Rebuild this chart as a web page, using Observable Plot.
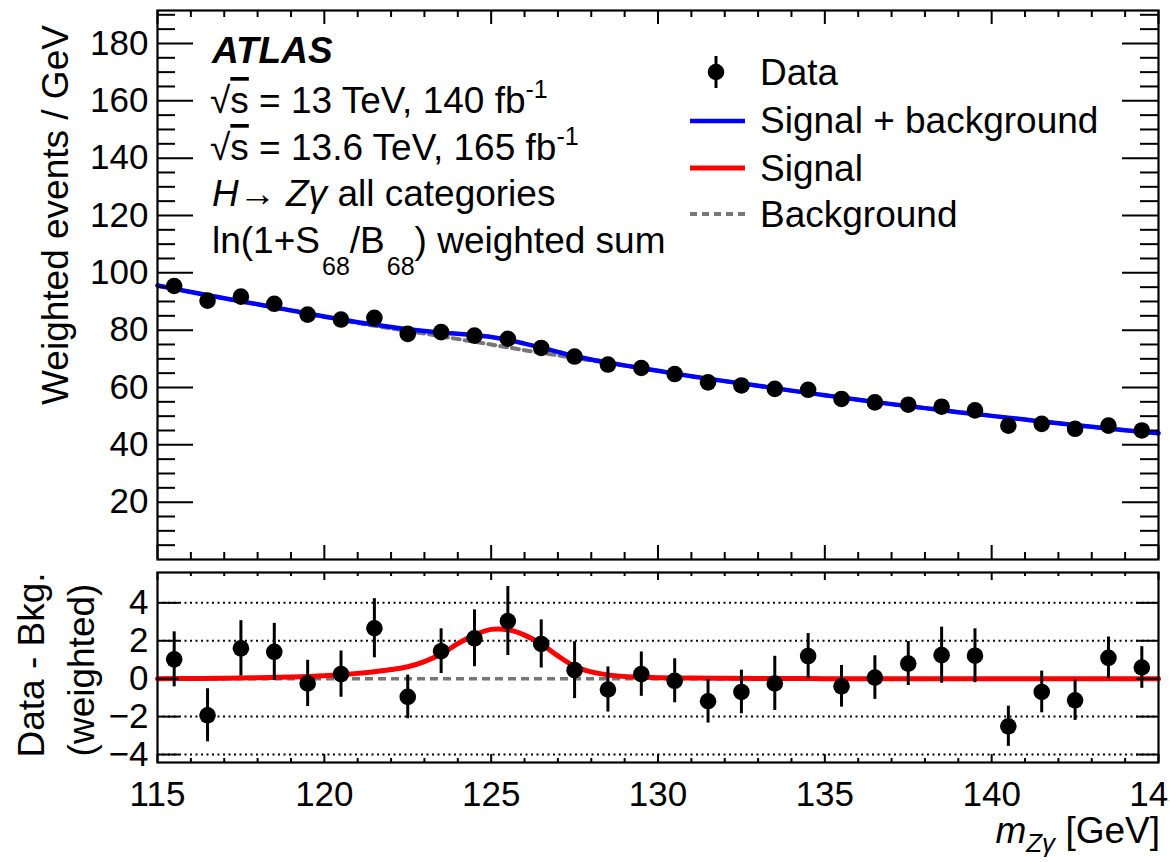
<!DOCTYPE html>
<html><head><meta charset="utf-8">
<script src="https://cdn.jsdelivr.net/npm/d3@7"></script>
<script src="https://cdn.jsdelivr.net/npm/@observablehq/plot@0.6"></script>
<style>
html,body{margin:0;padding:0;background:#fff;overflow:hidden;}
#wrap{position:relative;width:1170px;height:862px;overflow:hidden;font-family:"Liberation Sans",Arial,Helvetica,sans-serif;}
#wrap > svg, #wrap > div{position:absolute;left:0;}
#ann{position:absolute;left:0;top:0;pointer-events:none;}
#ann text{font-family:"Liberation Sans",Arial,Helvetica,sans-serif;font-size:37px;fill:#000;}
</style></head>
<body><div id="wrap"></div>
<script>
// ---------------- data ----------------
const binCenters = [115.5,116.5,117.5,118.5,119.5,120.5,121.5,122.5,123.5,124.5,125.5,126.5,127.5,128.5,129.5,130.5,131.5,132.5,133.5,134.5,135.5,136.5,137.5,138.5,139.5,140.5,141.5,142.5,143.5,144.5];
const dataValues = [95.4,90.3,91.7,89.2,85.4,83.7,84.3,78.7,79.3,78.1,77.0,73.8,70.8,68.0,66.8,64.7,61.8,60.7,59.5,59.2,56.0,54.8,54.0,53.3,52.0,46.7,47.3,45.6,46.7,45.0];
const residuals = [1.02,-1.93,1.60,1.42,-0.25,0.24,2.66,-0.96,1.45,2.13,3.04,1.83,0.45,-0.57,0.24,-0.11,-1.19,-0.70,-0.25,1.19,-0.40,0.06,0.80,1.24,1.21,-2.51,-0.70,-1.14,1.10,0.59];
const errors = [1.45,1.40,1.46,1.50,1.22,1.22,1.56,1.15,1.18,1.50,1.82,1.27,1.50,1.19,1.17,1.16,1.15,1.15,1.43,1.19,1.10,1.15,1.16,1.48,1.42,1.06,1.10,1.06,1.10,1.10];

const curveMass = [115,116,117,118,119,120,121,121.5,122,122.5,123,123.5,124,124.5,125,125.5,126,126.5,127,127.5,128,128.5,129,129.5,130,131,132,133,134,135,136,137,138,139,140,141,142,143,144,145];
const backgroundCurve = [95.6,93.3,91.1,89.0,86.8,84.6,82.5,81.55,80.6,79.7,78.8,77.85,76.9,75.95,75.0,74.0,73.0,72.1,71.2,70.3,69.4,68.5,67.6,66.7,65.8,63.9,62.2,60.6,58.9,57.3,55.7,54.2,52.8,51.4,50.1,48.8,47.5,46.3,45.1,44.0];
const signalCurve = [0,0.01,0.02,0.05,0.09,0.16,0.28,0.37,0.48,0.63,0.9,1.3,1.85,2.3,2.6,2.58,2.3,1.83,1.2,0.66,0.36,0.2,0.12,0.08,0.05,0.03,0.02,0.01,0.01,0,0,0,0,0,0,0,0,0,0,0];

const upperTicks = [20,40,60,80,100,120,140,160,180];
const lowerTicks = [-4,-2,0,2,4];
const lowerGrid = [-4,-2,2,4];
const massTicks = [115,120,125,130,135,140,145];

// ---------------- layout ----------------
const W = 1170, mL = 157, mR = 12;
const plotW = W - mL - mR;
const font = "'Liberation Sans', Arial, Helvetica, sans-serif";
const tickFont = 35;
const binIdx = binCenters.map((_, i) => i);
const curveIdx = curveMass.map((_, i) => i);
const minorMass = d3.range(116, 145, 1).filter(v => v % 5 !== 0);
const upperMinor = d3.range(5, 191, 5).filter(v => v % 20 !== 0);

// upper panel
const uH = 566, uTop = 10, uBot = 559;
const uInner = uBot - uTop;
const upper = Plot.plot({
  width: W, height: uH,
  marginLeft: mL, marginRight: mR, marginTop: uTop, marginBottom: uH - uBot,
  x: {domain: [115, 145], axis: null},
  y: {domain: [0, 191.5], axis: null},
  style: {fontFamily: font, fontSize: tickFont + "px", background: "transparent", overflow: "visible"},
  marks: [
    Plot.line(curveIdx, {x: i => curveMass[i], y: i => backgroundCurve[i], stroke: "#777", strokeWidth: 4, strokeDasharray: "7,5", curve: "catmull-rom"}),
    Plot.line(curveIdx, {x: i => curveMass[i], y: i => backgroundCurve[i] + signalCurve[i], stroke: "#0000ff", strokeWidth: 4.5, curve: "catmull-rom"}),
    Plot.ruleX(binIdx, {x: i => binCenters[i], y1: i => dataValues[i] - errors[i], y2: i => dataValues[i] + errors[i], stroke: "#000", strokeWidth: 3}),
    Plot.dot(binIdx, {x: i => binCenters[i], y: i => dataValues[i], r: 8.3, fill: "#000", stroke: "none"}),
    Plot.tickY(upperTicks, {y: d => d, insetRight: plotW - 36, stroke: "#000", strokeWidth: 2}),
    Plot.tickY(upperMinor, {y: d => d, insetRight: plotW - 18, stroke: "#000", strokeWidth: 2}),
    Plot.tickY(upperTicks, {y: d => d, insetLeft: plotW - 36, stroke: "#000", strokeWidth: 2}),
    Plot.tickY(upperMinor, {y: d => d, insetLeft: plotW - 18, stroke: "#000", strokeWidth: 2}),
    Plot.tickX(massTicks, {x: d => d, insetBottom: uInner - 14, stroke: "#000", strokeWidth: 2}),
    Plot.tickX(minorMass, {x: d => d, insetBottom: uInner - 7, stroke: "#000", strokeWidth: 2}),
    Plot.tickX(massTicks, {x: d => d, insetTop: uInner - 14, stroke: "#000", strokeWidth: 2}),
    Plot.tickX(minorMass, {x: d => d, insetTop: uInner - 7, stroke: "#000", strokeWidth: 2}),
    Plot.axisY({ticks: upperTicks, tickSize: 0, tickPadding: 9, label: null, fontSize: tickFont}),
    Plot.frame({stroke: "#000", strokeWidth: 2.2})
  ]
});
upper.style.top = "0px";

// lower panel
const lTopPx = 566, lH = 296, lTop = 6, lBotPx = 762;
const lMarginBottom = lTopPx + lH - lBotPx;
const lInner = lH - lTop - lMarginBottom;
const lower = Plot.plot({
  width: W, height: lH,
  marginLeft: mL, marginRight: mR, marginTop: lTop, marginBottom: lMarginBottom,
  x: {domain: [115, 145], axis: null},
  y: {domain: [-4.42, 5.6], axis: null},
  style: {fontFamily: font, fontSize: tickFont + "px", background: "transparent", overflow: "visible"},
  marks: [
    Plot.ruleY(lowerGrid, {y: d => d, stroke: "#000", strokeWidth: 2, strokeDasharray: "2,3.5"}),
    Plot.ruleY([0], {y: d => d, stroke: "#777", strokeWidth: 3.5, strokeDasharray: "8,5"}),
    Plot.line(curveIdx, {x: i => curveMass[i], y: i => signalCurve[i], stroke: "#ff0000", strokeWidth: 5, curve: "catmull-rom"}),
    Plot.ruleX(binIdx, {x: i => binCenters[i], y1: i => residuals[i] - errors[i], y2: i => residuals[i] + errors[i], stroke: "#000", strokeWidth: 3}),
    Plot.dot(binIdx, {x: i => binCenters[i], y: i => residuals[i], r: 8.3, fill: "#000", stroke: "none"}),
    Plot.tickY(lowerTicks, {y: d => d, insetRight: plotW - 22, stroke: "#000", strokeWidth: 2}),
    Plot.tickY(lowerTicks, {y: d => d, insetLeft: plotW - 22, stroke: "#000", strokeWidth: 2}),
    Plot.tickX(massTicks, {x: d => d, insetBottom: lInner - 8, stroke: "#000", strokeWidth: 2}),
    Plot.tickX(minorMass, {x: d => d, insetBottom: lInner - 4, stroke: "#000", strokeWidth: 2}),
    Plot.tickX(massTicks, {x: d => d, insetTop: lInner - 8, stroke: "#000", strokeWidth: 2}),
    Plot.tickX(minorMass, {x: d => d, insetTop: lInner - 4, stroke: "#000", strokeWidth: 2}),
    Plot.axisY({ticks: lowerTicks, tickSize: 0, tickPadding: 9, label: null, fontSize: tickFont}),
    Plot.axisX({ticks: massTicks, tickSize: 0, tickPadding: 19, label: null, fontSize: tickFont}),
    Plot.frame({stroke: "#000", strokeWidth: 2.2})
  ]
});
lower.style.top = lTopPx + "px";

const wrap = document.getElementById("wrap");
wrap.appendChild(upper);
wrap.appendChild(lower);

// annotations, titles and legend
const ann = `
<svg id="ann" width="1170" height="862" xmlns="http://www.w3.org/2000/svg">
  <text x="212" y="63" font-weight="bold" font-style="italic">ATLAS</text>
  <text x="210" y="113">√<tspan text-decoration="overline">s</tspan> = 13 TeV, 140 fb<tspan dy="-15" font-size="25">-1</tspan></text>
  <text x="210" y="160">√<tspan text-decoration="overline">s</tspan> = 13.6 TeV, 165 fb<tspan dy="-15" font-size="25">-1</tspan></text>
  <text x="212" y="206"><tspan font-style="italic">H</tspan>→ <tspan font-style="italic">Zγ</tspan> all categories</text>
  <text x="212" y="253">ln(1+S<tspan dx="2" dy="22" font-size="25">68</tspan><tspan dy="-22">/B</tspan><tspan dx="2" dy="22" font-size="25">68</tspan><tspan dy="-22">) weighted sum</tspan></text>

  <line x1="716" x2="716" y1="56" y2="88" stroke="#000" stroke-width="3"/>
  <circle cx="716" cy="72" r="8.3" fill="#000"/>
  <line x1="690" x2="745" y1="121" y2="121" stroke="#0000ff" stroke-width="4.5"/>
  <line x1="690" x2="745" y1="168" y2="168" stroke="#ff0000" stroke-width="5"/>
  <line x1="690" x2="745" y1="214" y2="214" stroke="#777" stroke-width="4" stroke-dasharray="7,5"/>
  <text x="760" y="85">Data</text>
  <text x="760" y="133">Signal + background</text>
  <text x="760" y="181">Signal</text>
  <text x="760" y="227">Background</text>

  <text transform="translate(68,215) rotate(-90)" text-anchor="middle">Weighted events / GeV</text>
  <text transform="translate(44,665) rotate(-90)" text-anchor="middle">Data - Bkg.</text>
  <text transform="translate(94,670) rotate(-90)" text-anchor="middle">(weighted)</text>

  <text x="1160" y="843" text-anchor="end"><tspan font-style="italic">m</tspan><tspan dy="9" font-size="26" font-style="italic">Zγ</tspan><tspan dy="-9"> [GeV]</tspan></text>
</svg>`;
wrap.insertAdjacentHTML("beforeend", ann);
</script>
</body></html>
